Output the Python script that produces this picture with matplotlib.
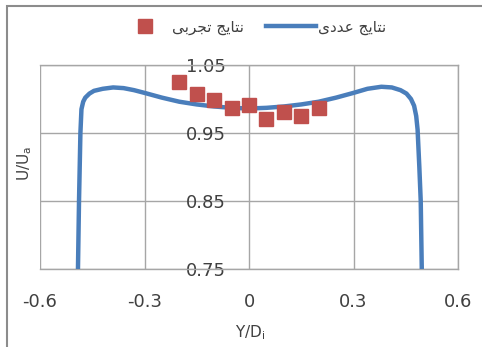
import matplotlib
matplotlib.use('Agg')
import matplotlib.pyplot as plt
from matplotlib.patches import Rectangle
from matplotlib.lines import Line2D

# measured points (U/Ua against Y/Di)
exp_y = [-0.20, -0.15, -0.10, -0.05, 0.00, 0.05, 0.10, 0.15, 0.20]
exp_u = [1.025, 1.008, 0.998, 0.987, 0.991, 0.970, 0.981, 0.975, 0.987]

# computed velocity profile across the duct
num_y = [-0.491, -0.488, -0.484, -0.481, -0.476, -0.470, -0.458, -0.445, -0.420,
         -0.390, -0.360, -0.330, -0.300, -0.250, -0.200, -0.150, -0.100, -0.050,
         0.000, 0.050, 0.100, 0.150, 0.200, 0.250, 0.300, 0.340, 0.380, 0.410,
         0.435, 0.452, 0.465, 0.474, 0.480, 0.484, 0.489, 0.493, 0.496]
num_u = [0.750, 0.850, 0.950, 0.985, 0.996, 1.002, 1.008, 1.012, 1.015,
         1.017, 1.016, 1.013, 1.009, 1.002, 0.996, 0.992, 0.989, 0.987,
         0.986, 0.987, 0.989, 0.992, 0.996, 1.002, 1.009, 1.015, 1.018, 1.017,
         1.013, 1.008, 1.000, 0.990, 0.975, 0.955, 0.900, 0.850, 0.750]

x_ticks = [-0.6, -0.3, 0.0, 0.3, 0.6]
x_tick_labels = ['-0.6', '-0.3', '0', '0.3', '0.6']
y_ticks = [0.75, 0.85, 0.95, 1.05]
y_tick_labels = ['0.75', '0.85', '0.95', '1.05']

# Persian legend labels, written with Arabic presentation forms and reversed
# because matplotlib lays text out left to right without shaping
label_exp = '\uFEE7\uFE98\uFE8E\uFBFE\uFE9E \uFE97\uFEA0\uFEAE\uFE91\uFBFD'[::-1]
label_num = '\uFEE7\uFE98\uFE8E\uFBFE\uFE9E \uFECB\uFEAA\uFEA9\uFBFC'[::-1]

grid_color = '#a6a6a6'
blue = '#4a7ebb'
red = '#c0504d'

plt.rcParams['font.family'] = ['DejaVu Sans']

fig = plt.figure(figsize=(4.82, 3.47), dpi=100)
ax = fig.add_axes([40 / 482, 1 - 269 / 347, 418 / 482, 204 / 347])

ax.plot(num_y, num_u, color=blue, lw=3.2, solid_capstyle='butt', zorder=3)
ax.plot(exp_y, exp_u, ls='none', marker='s', ms=9.5, color=red,
        mec=red, zorder=4)

ax.set_xlim(-0.6, 0.6)
ax.set_ylim(0.75, 1.05)
ax.set_xticks(x_ticks)
ax.set_xticklabels(x_tick_labels)
ax.set_yticks(y_ticks)
ax.set_yticklabels(y_tick_labels)
ax.grid(True, color=grid_color, lw=1.0)
ax.set_axisbelow(True)

# value axis crosses at Y/Di = 0, labels sit beside it
ax.spines['left'].set_position(('data', 0))
ax.spines['left'].set_visible(False)
for side in ['top', 'right', 'bottom']:
    ax.spines[side].set_color(grid_color)
    ax.spines[side].set_linewidth(1.0)

ax.tick_params(axis='y', length=0, pad=17, labelsize=13, labelcolor='#404040')
ax.tick_params(axis='x', length=0, pad=17, labelsize=13, labelcolor='#404040')

fig.text(25 / 482, 1 - 163 / 347, r'U/U$_{\mathregular{a}}$', rotation=90,
         ha='center', va='center', fontsize=11, color='#404040')
fig.text(250 / 482, 1 - 333 / 347, r'Y/D$_{\mathregular{i}}$',
         ha='center', va='center', fontsize=11, color='#404040')

handles = [Line2D([], [], ls='none', marker='s', ms=9.5, color=red),
           Line2D([], [], color=blue, lw=3.2)]
fig.legend(handles, [label_exp, label_num], ncol=2, loc='center',
           bbox_to_anchor=(253 / 482, 1 - 27 / 347), frameon=False,
           fontsize=11, handlelength=3.27, handletextpad=0.13,
           columnspacing=1.44, labelcolor='#404040')

# outer chart border
fig.patches.append(Rectangle((7 / 482, -0.1), 1.0, 1.1 - 6 / 347,
                             transform=fig.transFigure, fill=False,
                             edgecolor='#8c8c8c', lw=1.5))

fig.savefig('out.png', dpi=100)
